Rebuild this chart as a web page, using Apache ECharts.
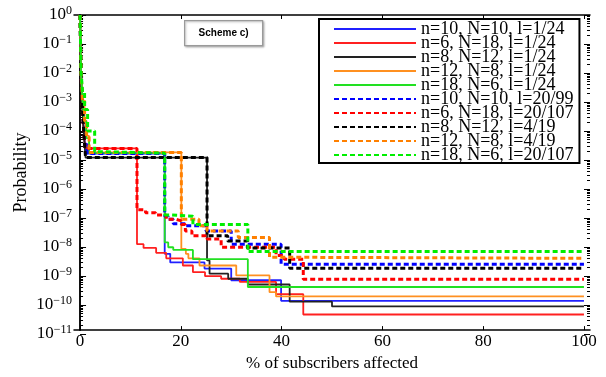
<!DOCTYPE html>
<html>
<head>
<meta charset="utf-8">
<script src="https://cdn.jsdelivr.net/npm/echarts@6/dist/echarts.min.js"></script>
<style>
html,body{margin:0;padding:0;background:#fff;}
#chart{width:606px;height:377px;}
</style>
</head>
<body>
<div id="chart"></div>
<script>
// ---- data (x = % of subscribers affected, p = probability; step changes at each x) ----
const seriesNames = [
  'n=10, N=10, l=1/24', 'n=6, N=18, l=1/24', 'n=8, N=12, l=1/24', 'n=12, N=8, l=1/24', 'n=18, N=6, l=1/24',
  'n=10, N=10, l=20/99', 'n=6, N=18, l=20/107', 'n=8, N=12, l=4/19', 'n=12, N=8, l=4/19', 'n=18, N=6, l=20/107'
];
const xTickValues = [0, 20, 40, 60, 80, 100];

const blueSolidX = [0, 0.2, 0.45, 0.7, 1.0, 1.4, 16.8, 17.9, 24.7, 30.0, 39.9, 100];
const blueSolidP = [1, 1e-2, 1e-3, 1e-4, 3e-5, 1.45e-5, 4.6e-9, 2.3e-9, 1.4e-9, 5.5e-10, 1.05e-10, 1.05e-10];

const redSolidX = [0, 0.2, 0.4, 0.7, 1.0, 11.3, 12.6, 15.1, 17.1, 20.4, 22.4, 24.8, 28.0, 31.7, 38.9, 44.3, 100];
const redSolidP = [1, 1e-2, 1e-3, 1e-4, 2.2e-5, 1.0e-8, 7.4e-9, 5.0e-9, 3.2e-9, 1.8e-9, 1.05e-9, 7.6e-10, 6.2e-10, 4.8e-10, 1.8e-10, 3.5e-11, 3.5e-11];

const blackSolidX = [0, 0.2, 0.4, 0.6, 0.9, 1.1, 25.2, 25.7, 29.4, 33.3, 41.6, 50.0, 100];
const blackSolidP = [1, 1e-2, 1e-3, 2e-4, 3e-5, 1.05e-5, 2.7e-9, 9.3e-10, 6.2e-10, 3.9e-10, 9.8e-11, 6.7e-11, 6.7e-11];

const orangeSolidX = [0, 0.2, 0.5, 0.9, 1.3, 1.8, 20.1, 21.0, 21.5, 23.7, 31.0, 37.6, 38.9, 100];
const orangeSolidP = [1, 1e-2, 1e-3, 2e-4, 6e-5, 1.6e-5, 6.8e-9, 4.6e-9, 3.2e-9, 1.8e-9, 8.1e-10, 2.1e-10, 1.5e-10, 1.5e-10];

const greenSolidX = [0, 0.2, 0.5, 0.8, 1.2, 1.8, 16.8, 17.5, 18.5, 22.4, 33.3, 100];
const greenSolidP = [1, 1e-2, 1e-3, 2e-4, 5e-5, 1.5e-5, 1.15e-8, 7.8e-9, 6.3e-9, 3.0e-9, 3.2e-10, 3.2e-10];

const blueDotX = [0, 0.2, 0.45, 0.7, 1.0, 1.4, 16.8, 17.5, 18.5, 21.0, 25.0, 30.0, 39.9, 100];
const blueDotP = [1, 1e-2, 1e-3, 1e-4, 3e-5, 1.45e-5, 9.5e-8, 7.4e-8, 5.2e-8, 4.4e-8, 2.9e-8, 1.0e-8, 2.0e-9, 2.0e-9];

const redDotX = [0, 0.2, 0.4, 0.7, 1.0, 11.3, 13.0, 15.0, 17.1, 19.0, 20.1, 20.9, 22.2, 25.2, 28.0, 38.9, 40.5, 44.3, 100];
const redDotP = [1, 1e-2, 1e-3, 1e-4, 2.2e-5, 1.6e-7, 1.26e-7, 1.05e-7, 7.4e-8, 6.5e-8, 4.9e-8, 2.9e-8, 1.95e-8, 1.5e-8, 7.8e-9, 4.0e-9, 3.0e-9, 6.0e-10, 6.0e-10];

const blackDotX = [0, 0.2, 0.4, 0.6, 0.9, 1.1, 25.2, 29.3, 33.2, 41.6, 100];
const blackDotP = [1, 1e-2, 1e-3, 2e-4, 3e-5, 1.05e-5, 1.95e-8, 1.3e-8, 7.4e-9, 1.45e-9, 1.45e-9];

const orangeDotX = [0, 0.2, 0.5, 0.9, 1.3, 1.8, 20.1, 23.6, 25.2, 31.4, 37.6, 38.9, 100];
const orangeDotP = [1, 1e-2, 1e-3, 2e-4, 6e-5, 1.6e-5, 7.4e-8, 4.4e-8, 2.9e-8, 1.7e-8, 3.5e-9, 3.2e-9, 3.2e-9];

const greenDotX = [0, 0.2, 0.5, 0.9, 1.5, 2.9, 4.0, 16.8, 17.5, 22.4, 33.3, 100];
const greenDotP = [1, 1e-2, 2e-3, 5e-4, 9e-5, 1.7e-5, 1.5e-5, 1.05e-7, 9.5e-8, 4.9e-8, 5.5e-9, 5.5e-9];

// ---- build ----
const allX = [blueSolidX, redSolidX, blackSolidX, orangeSolidX, greenSolidX, blueDotX, redDotX, blackDotX, orangeDotX, greenDotX];
const allP = [blueSolidP, redSolidP, blackSolidP, orangeSolidP, greenSolidP, blueDotP, redDotP, blackDotP, orangeDotP, greenDotP];
const colors = ['#2020ff', '#ff2020', '#222222', '#ff9020', '#22e022', '#0000ff', '#ff0000', '#000000', '#ff8000', '#00ee00'];

const serif = 'Liberation Serif';
const series = allX.map(function (xs, i) {
  const dotted = i >= 5;
  return {
    name: seriesNames[i],
    type: 'line',
    step: 'end',
    symbol: 'none',
    xAxisIndex: 0,
    yAxisIndex: 0,
    animation: false,
    z: dotted ? 3 : 2,
    lineStyle: { color: colors[i], width: dotted ? 3 : 1.8, type: dotted ? [5, 3] : 'solid' },
    itemStyle: { color: colors[i] },
    data: xs.map(function (x, j) { return [x, allP[i][j]]; })
  };
});

// tick decoration for the log axis, in exponent space
const majorTicks = [-11, -10, -9, -8, -7, -6, -5, -4, -3, -2, -1, 0];
const minorTicks = [];
for (let e = -11; e < 0; e++) { for (let k = 2; k <= 9; k++) { minorTicks.push(e + Math.log10(k)); } }

function supLabel(e) {
  e = Math.round(e);
  return '{b|10}{s|' + (e === 0 ? '0' : '\u2212' + (-e)) + '}';
}

const gridPos = { left: 74, right: 16, top: 15, bottom: 43 };
function g() { return Object.assign({ containLabel: false }, gridPos); }
const chart = echarts.init(document.getElementById('chart'), null, { renderer: 'canvas' });
chart.setOption({
  animation: false,
  backgroundColor: '#fff',
  grid: [g(), g(), g()],
  legend: {
    orient: 'vertical',
    left: 319, top: 19,
    data: seriesNames,
    itemWidth: 82, itemHeight: 14, itemGap: -4,
    padding: [1, 6, -1, 14],
    backgroundColor: '#fff',
    borderColor: '#000', borderWidth: 2, borderRadius: 0,
    selectedMode: false,
    itemStyle: { opacity: 0 },
    textStyle: { fontFamily: serif, fontSize: 18, color: '#000' }
  },
  xAxis: [
    { type: 'value', gridIndex: 0, position: 'bottom', min: -1.2, max: 101.2,
      name: '% of subscribers affected', nameLocation: 'middle', nameGap: 22,
      nameTextStyle: { fontFamily: serif, fontSize: 17, color: '#000' },
      axisLine: { show: true, lineStyle: { color: '#000', width: 1.5 } },
      axisTick: { show: true, inside: true, length: 4, customValues: xTickValues, lineStyle: { color: '#000' } },
      axisLabel: { show: true, customValues: xTickValues, margin: 3, fontFamily: serif, fontSize: 17, color: '#000' },
      splitLine: { show: false } },
    { type: 'value', gridIndex: 0, position: 'top', min: -1.2, max: 101.2,
      axisLine: { show: true, lineStyle: { color: '#000', width: 1.5 } },
      axisTick: { show: true, inside: true, length: 4, customValues: xTickValues, lineStyle: { color: '#000' } },
      axisLabel: { show: false }, splitLine: { show: false } },
    { type: 'value', gridIndex: 1, show: false, min: -1.2, max: 101.2 },
    { type: 'value', gridIndex: 2, show: false, min: -1.2, max: 101.2 }
  ],
  yAxis: [
    { type: 'log', logBase: 10, gridIndex: 0, position: 'left', min: 1e-11, max: 1,
      name: 'Probability', nameLocation: 'middle', nameGap: 44,
      nameTextStyle: { fontFamily: serif, fontSize: 18, color: '#000' },
      axisLine: { show: true, lineStyle: { color: '#000', width: 1.5 } },
      axisTick: { show: false }, minorTick: { show: false },
      axisLabel: { show: false }, splitLine: { show: false } },
    { type: 'log', logBase: 10, gridIndex: 0, position: 'right', min: 1e-11, max: 1,
      axisLine: { show: true, lineStyle: { color: '#000', width: 1.5 } },
      axisTick: { show: false }, axisLabel: { show: false }, splitLine: { show: false } },
    // major ticks + labels (exponent space)
    { type: 'value', gridIndex: 1, position: 'left', min: -11, max: 0,
      axisLine: { show: false },
      axisTick: { show: true, inside: true, length: 6, customValues: majorTicks, lineStyle: { color: '#000' } },
      axisLabel: { show: true, margin: 2, customValues: majorTicks, formatter: supLabel,
        rich: { b: { fontFamily: serif, fontSize: 17, color: '#000' },
                s: { fontFamily: serif, fontSize: 12, color: '#000', verticalAlign: 'top', padding: [0, 0, 9, 0] } } },
      splitLine: { show: false } },
    { type: 'value', gridIndex: 1, position: 'right', min: -11, max: 0,
      axisLine: { show: false },
      axisTick: { show: true, inside: true, length: 6, customValues: majorTicks, lineStyle: { color: '#000' } },
      axisLabel: { show: false }, splitLine: { show: false } },
    // minor ticks
    { type: 'value', gridIndex: 2, position: 'left', min: -11, max: 0,
      axisLine: { show: false },
      axisTick: { show: true, inside: true, length: 3, customValues: minorTicks, lineStyle: { color: '#000', width: 1 } },
      axisLabel: { show: false }, splitLine: { show: false } },
    { type: 'value', gridIndex: 2, position: 'right', min: -11, max: 0,
      axisLine: { show: false },
      axisTick: { show: true, inside: true, length: 3, customValues: minorTicks, lineStyle: { color: '#000', width: 1 } },
      axisLabel: { show: false }, splitLine: { show: false } }
  ],
  graphic: [
    { type: 'group', left: 184, top: 20, z: 100, children: [
      { type: 'rect', shape: { x: 0, y: 0, width: 78, height: 25 },
        style: { fill: '#fff', stroke: '#9a9a9a', lineWidth: 1.2, shadowColor: 'rgba(0,0,0,0.25)', shadowBlur: 2, shadowOffsetX: 1, shadowOffsetY: 1 } },
      { type: 'text', x: 39, y: 12.5,
        style: { text: 'Scheme c)', fontFamily: 'Liberation Sans', fontWeight: 'bold', fontSize: 10, fill: '#000', align: 'center', verticalAlign: 'middle' } }
    ] }
  ],
  series: series
});
</script>
</body>
</html>
